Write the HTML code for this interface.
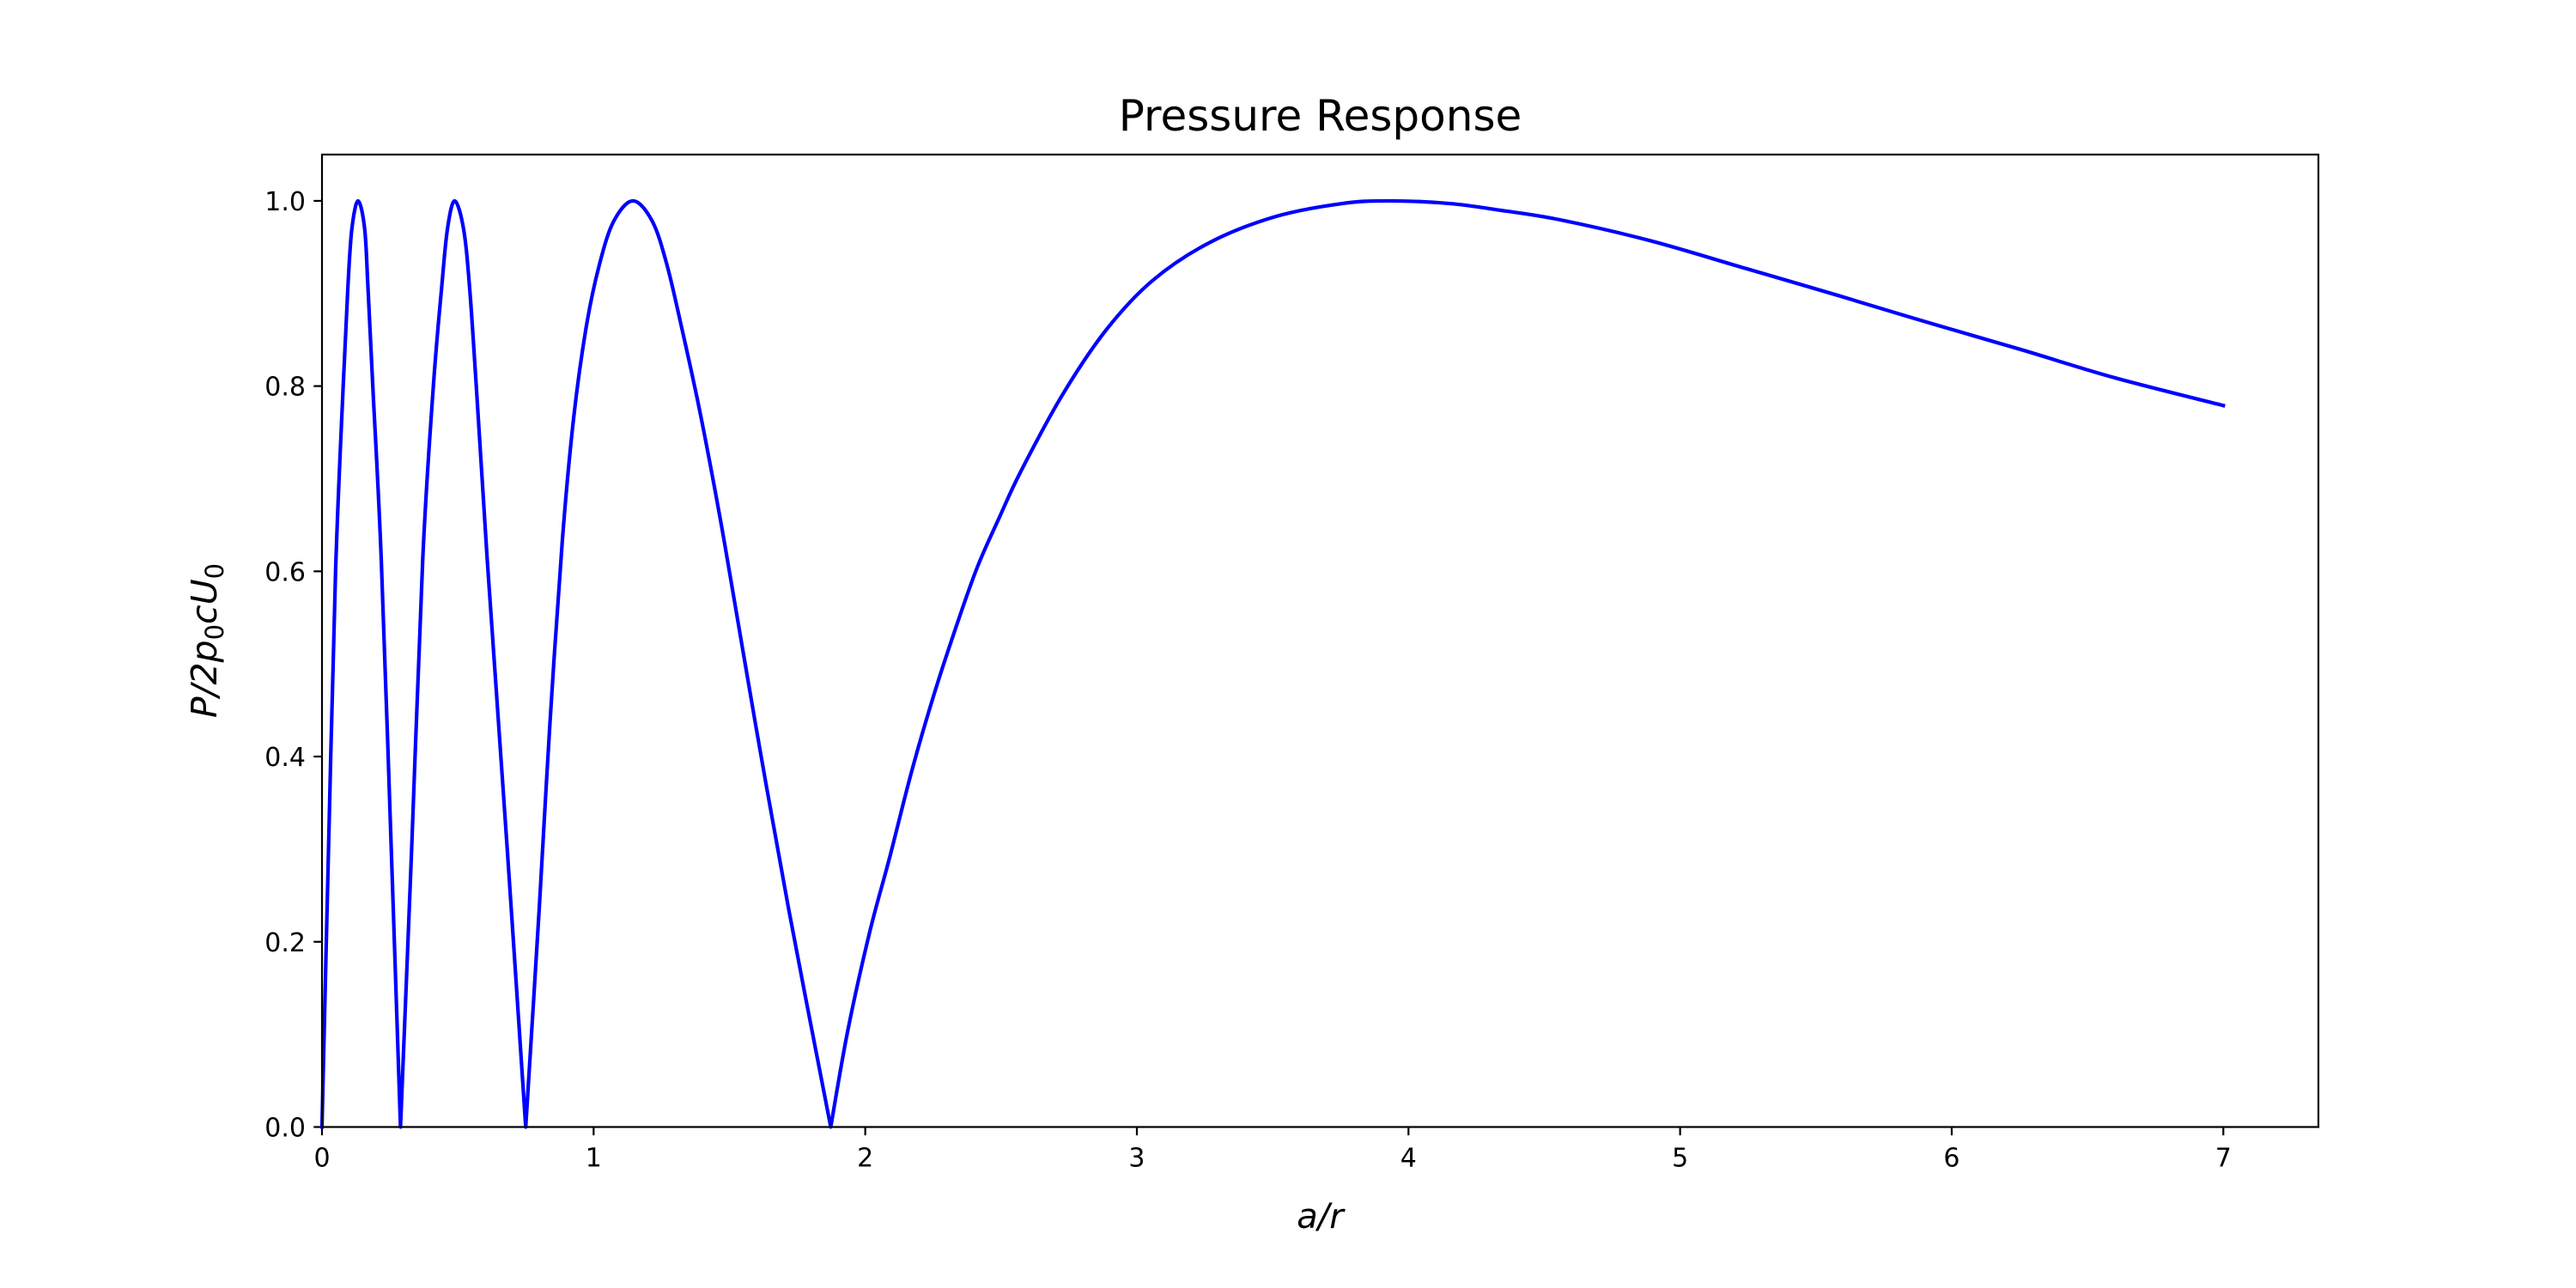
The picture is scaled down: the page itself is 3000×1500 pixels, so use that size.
<!DOCTYPE html>
<html><head><meta charset="utf-8"><style>
html,body{margin:0;padding:0;background:#fff}
svg{display:block}
text{font-family:"DejaVu Sans","Liberation Sans",sans-serif;fill:#000}
</style></head><body>
<svg id="chart" width="3000" height="1500" viewBox="0 0 3000 1500" xmlns="http://www.w3.org/2000/svg">
<rect width="3000" height="1500" fill="#fff"/>
<g id="ticks"></g>
<path id="curve" fill="none" stroke="#0000ff" stroke-width="4.2" stroke-linejoin="round" stroke-linecap="square"/>
<rect x="375" y="180" width="2325" height="1132.5" fill="none" stroke="#000" stroke-width="2.2"/>
<text x="1537.5" y="152" font-size="50" text-anchor="middle">Pressure Response</text>
<text x="1537.5" y="1430" font-size="40" text-anchor="middle" font-style="italic">a/r</text>
<text transform="translate(252,746) rotate(-90)" font-size="41" text-anchor="middle" font-style="italic">P/2p<tspan font-size="29" dy="8" font-style="normal">0</tspan><tspan dy="-8">cU</tspan><tspan font-size="29" dy="8" font-style="normal">0</tspan></text>
</svg>
<script>
const xTicks = [0,1,2,3,4,5,6,7];
const yTicks = [0.0,0.2,0.4,0.6,0.8,1.0];
const yTickLabels = ["0.0","0.2","0.4","0.6","0.8","1.0"];
const xValues = [0,0.024,0.050,0.078,0.0955,0.110,0.133,0.157,0.169,0.187,0.218,0.255,0.289,
 0.330,0.371,0.410,0.441,0.462,0.4885,0.521,0.543,0.568,0.608,0.682,0.750,
 0.800,0.839,0.885,0.927,0.974,1.022,1.074,1.145,1.216,1.269,1.322,1.395,1.480,1.596,1.717,1.873,
 1.935,2.016,2.089,2.17,2.25,2.331,2.412,2.492,2.573,2.727,2.888,3.058,3.268,3.51,3.753,3.93,4.157,4.334,4.55,4.89,5.23,5.58,5.92,6.26,6.60,7.0];
const yValues = [0,0.30,0.600,0.80,0.908,0.970,1.0,0.970,0.908,0.80,0.614,0.30,0,
 0.30,0.614,0.80,0.908,0.970,1.0,0.970,0.908,0.80,0.614,0.30,0,
 0.237,0.435,0.634,0.767,0.866,0.932,0.978,1.0,0.978,0.932,0.866,0.767,0.634,0.435,0.237,0,
 0.103,0.210,0.290,0.383,0.464,0.537,0.604,0.657,0.708,0.791,0.861,0.914,0.955,0.983,0.997,1.0,0.997,0.990,0.980,0.957,0.928,0.898,0.868,0.839,0.809,0.779];

const X0=375, X1=2700, Y0=1312.5, Y1=180, XMAX=7.35, YMAX=1.05;
function sx(v){return X0+(X1-X0)*v/XMAX;}
function sy(v){return Y0-(Y0-Y1)*v/YMAX;}
const NS="http://www.w3.org/2000/svg";
const g=document.getElementById('ticks');
xTicks.forEach(t=>{
  const l=document.createElementNS(NS,'line');
  
  
  l.setAttribute('x1',sx(t));l.setAttribute('x2',sx(t));l.setAttribute('y1',Y0);l.setAttribute('y2',Y0+9.7);
  l.setAttribute('stroke','#000');l.setAttribute('stroke-width','2.2');g.appendChild(l);
  const tx=document.createElementNS(NS,'text');
  
  
  tx.setAttribute('x',sx(t));tx.setAttribute('y',Y0+46);tx.setAttribute('font-size','30');tx.setAttribute('text-anchor','middle');
  tx.textContent=String(t);g.appendChild(tx);
});
yTicks.forEach((t,i)=>{
  const l=document.createElementNS(NS,'line');
  
  
  l.setAttribute('x1',X0-9.7);l.setAttribute('x2',X0);l.setAttribute('y1',sy(t));l.setAttribute('y2',sy(t));
  l.setAttribute('stroke','#000');l.setAttribute('stroke-width','2.2');g.appendChild(l);
  const tx=document.createElementNS(NS,'text');
  
  
  tx.setAttribute('x',X0-19);tx.setAttribute('y',sy(t)+11);tx.setAttribute('font-size','30');tx.setAttribute('text-anchor','end');
  tx.textContent=yTickLabels[i];g.appendChild(tx);
});
const pts=xValues.map((x,i)=>[sx(x),sy(yValues[i])]);
const segs=[];let cur=[pts[0]];
for(let i=1;i<pts.length;i++){cur.push(pts[i]);if(yValues[i]===0&&i<pts.length-1){segs.push(cur);cur=[pts[i]];}}
segs.push(cur);
let d='M'+pts[0][0]+','+pts[0][1];
segs.forEach(s=>{
  for(let i=0;i<s.length-1;i++){
    const p0=s[Math.max(0,i-1)],p1=s[i],p2=s[i+1],p3=s[Math.min(s.length-1,i+2)];
    const c1=[p1[0]+(p2[0]-p0[0])/6,p1[1]+(p2[1]-p0[1])/6];
    const c2=[p2[0]-(p3[0]-p1[0])/6,p2[1]-(p3[1]-p1[1])/6];
    d+=' C'+c1[0]+','+c1[1]+' '+c2[0]+','+c2[1]+' '+p2[0]+','+p2[1];
  }
});
document.getElementById('curve').setAttribute('d',d);
</script>
</body></html>
